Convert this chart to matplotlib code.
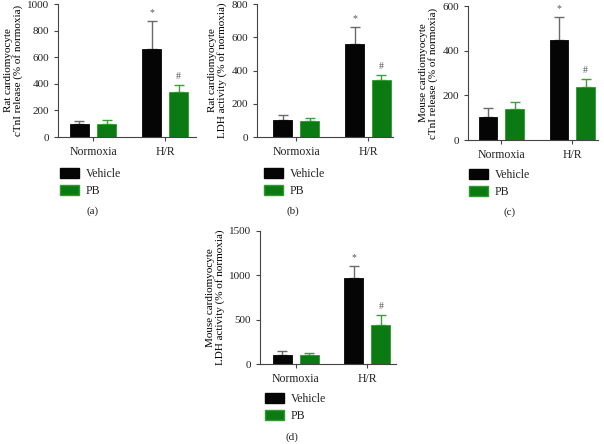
"""Four bar panels: cTnI release and LDH activity, vehicle vs PB."""
import matplotlib
matplotlib.use("Agg")
import matplotlib.pyplot as plt
from matplotlib.patches import Patch

plt.rcParams['font.family'] = ['Liberation Serif', 'DejaVu Serif']
plt.rcParams['text.color'] = '#222222'

GROUPS = ['Normoxia', 'H/R']
SERIES = ['Vehicle', 'PB']

# (a) rat cTnI
rat_tni_vehicle = [100, 665]
rat_tni_vehicle_err = [20, 205]
rat_tni_pb = [100, 335]
rat_tni_pb_err = [25, 55]

# (b) rat LDH
rat_ldh_vehicle = [100, 560]
rat_ldh_vehicle_err = [30, 103]
rat_ldh_pb = [98, 345]
rat_ldh_pb_err = [15, 27]

# (c) mouse cTnI
mouse_tni_vehicle = [105, 448]
mouse_tni_vehicle_err = [40, 102]
mouse_tni_pb = [138, 238]
mouse_tni_pb_err = [30, 37]

# (d) mouse LDH
mouse_ldh_vehicle = [105, 975]
mouse_ldh_vehicle_err = [40, 125]
mouse_ldh_pb = [105, 440]
mouse_ldh_pb_err = [20, 110]

BLACK = '#050505'
GREEN = '#0b7a12'
BLACK_ERR = '#6a6a6a'
GREEN_ERR = '#3e9e3e'

W, H = 604, 444


def px_axes(fig, left, right, top, bottom):
    return fig.add_axes([left / W, 1 - bottom / H, (right - left) / W, (bottom - top) / H])


def panel(fig, box, veh, veh_err, pb, pb_err, yticks, ylabel, xlim, legend_xy, tag_xy, tag):
    ax = px_axes(fig, *box)
    x = [0, 1]
    off, bw = 0.1875, 0.264
    xv = [i - off for i in x]
    xp = [i + off for i in x]
    ax.bar(xv, veh, bw, color=BLACK, edgecolor=BLACK, linewidth=0.6, zorder=2)
    ax.bar(xp, pb, bw, color=GREEN, edgecolor='#2f9a2f', linewidth=0.6, zorder=2)
    ax.errorbar(xv, veh, yerr=[[0, 0], veh_err], fmt='none', ecolor=BLACK_ERR,
                elinewidth=1, capsize=3.5, capthick=1, zorder=1)
    ax.errorbar(xp, pb, yerr=[[0, 0], pb_err], fmt='none', ecolor=GREEN_ERR,
                elinewidth=1, capsize=3.5, capthick=1, zorder=1)
    top = yticks[-1]
    pad = top * 0.03
    ax.text(xv[1], veh[1] + veh_err[1] + pad, '*', ha='center', va='bottom',
            fontsize=7, color='#555555')
    ax.text(xp[1], pb[1] + pb_err[1] + pad, '#', ha='center', va='bottom',
            fontsize=7, color='#555555')
    ax.set_ylim(0, top)
    ax.set_yticks(yticks)
    ax.set_xlim(*xlim)
    ax.set_xticks(x)
    ax.set_xticklabels(GROUPS, fontsize=8.5)
    ax.tick_params(axis='y', labelsize=8, length=3, width=0.8, color='#444444',
                   labelcolor='#222222')
    ax.tick_params(axis='x', length=3, width=0.8, color='#444444', labelcolor='#222222')
    for s in ['top', 'right']:
        ax.spines[s].set_visible(False)
    for s in ['left', 'bottom']:
        ax.spines[s].set_color('#444444')
        ax.spines[s].set_linewidth(0.8)
    ax.set_ylabel(ylabel, fontsize=8, labelpad=3, linespacing=1.0)

    handles = [Patch(facecolor=BLACK, edgecolor=BLACK),
               Patch(facecolor=GREEN, edgecolor='#2f9a2f')]
    fig.legend(handles, SERIES, loc='upper left',
               bbox_to_anchor=(legend_xy[0] / W, 1 - legend_xy[1] / H),
               frameon=False, fontsize=8.5, handlelength=1.6, handleheight=0.9,
               handletextpad=0.6, labelspacing=0.45, borderpad=0, borderaxespad=0)
    fig.text(tag_xy[0] / W, 1 - tag_xy[1] / H, tag, ha='center', va='center', fontsize=8)
    return ax


fig = plt.figure(figsize=(W / 100, H / 100), dpi=100)

panel(fig, (58, 196, 4, 137), rat_tni_vehicle, rat_tni_vehicle_err, rat_tni_pb, rat_tni_pb_err,
      [0, 200, 400, 600, 800, 1000],
      'Rat cardiomyocyte\ncTnI release (% of normoxia)', (-0.486, 1.43),
      (60, 168), (93, 211), '(a)')
panel(fig, (257, 393, 4, 137), rat_ldh_vehicle, rat_ldh_vehicle_err, rat_ldh_pb, rat_ldh_pb_err,
      [0, 200, 400, 600, 800],
      'Rat cardiomyocyte\nLDH activity (% of normoxia)', (-0.55, 1.35),
      (264, 168), (293, 211), '(b)')
panel(fig, (468, 598, 6, 140), mouse_tni_vehicle, mouse_tni_vehicle_err, mouse_tni_pb, mouse_tni_pb_err,
      [0, 200, 400, 600],
      'Mouse cardiomyocyte\ncTnI release (% of normoxia)', (-0.47, 1.36),
      (469, 169), (510, 212), '(c)')
panel(fig, (260, 396, 231, 364), mouse_ldh_vehicle, mouse_ldh_vehicle_err, mouse_ldh_pb, mouse_ldh_pb_err,
      [0, 500, 1000, 1500],
      'Mouse cardiomyocyte\nLDH activity (% of normoxia)', (-0.5, 1.4),
      (265, 393), (292, 437), '(d)')

fig.savefig('out.png', dpi=100)
